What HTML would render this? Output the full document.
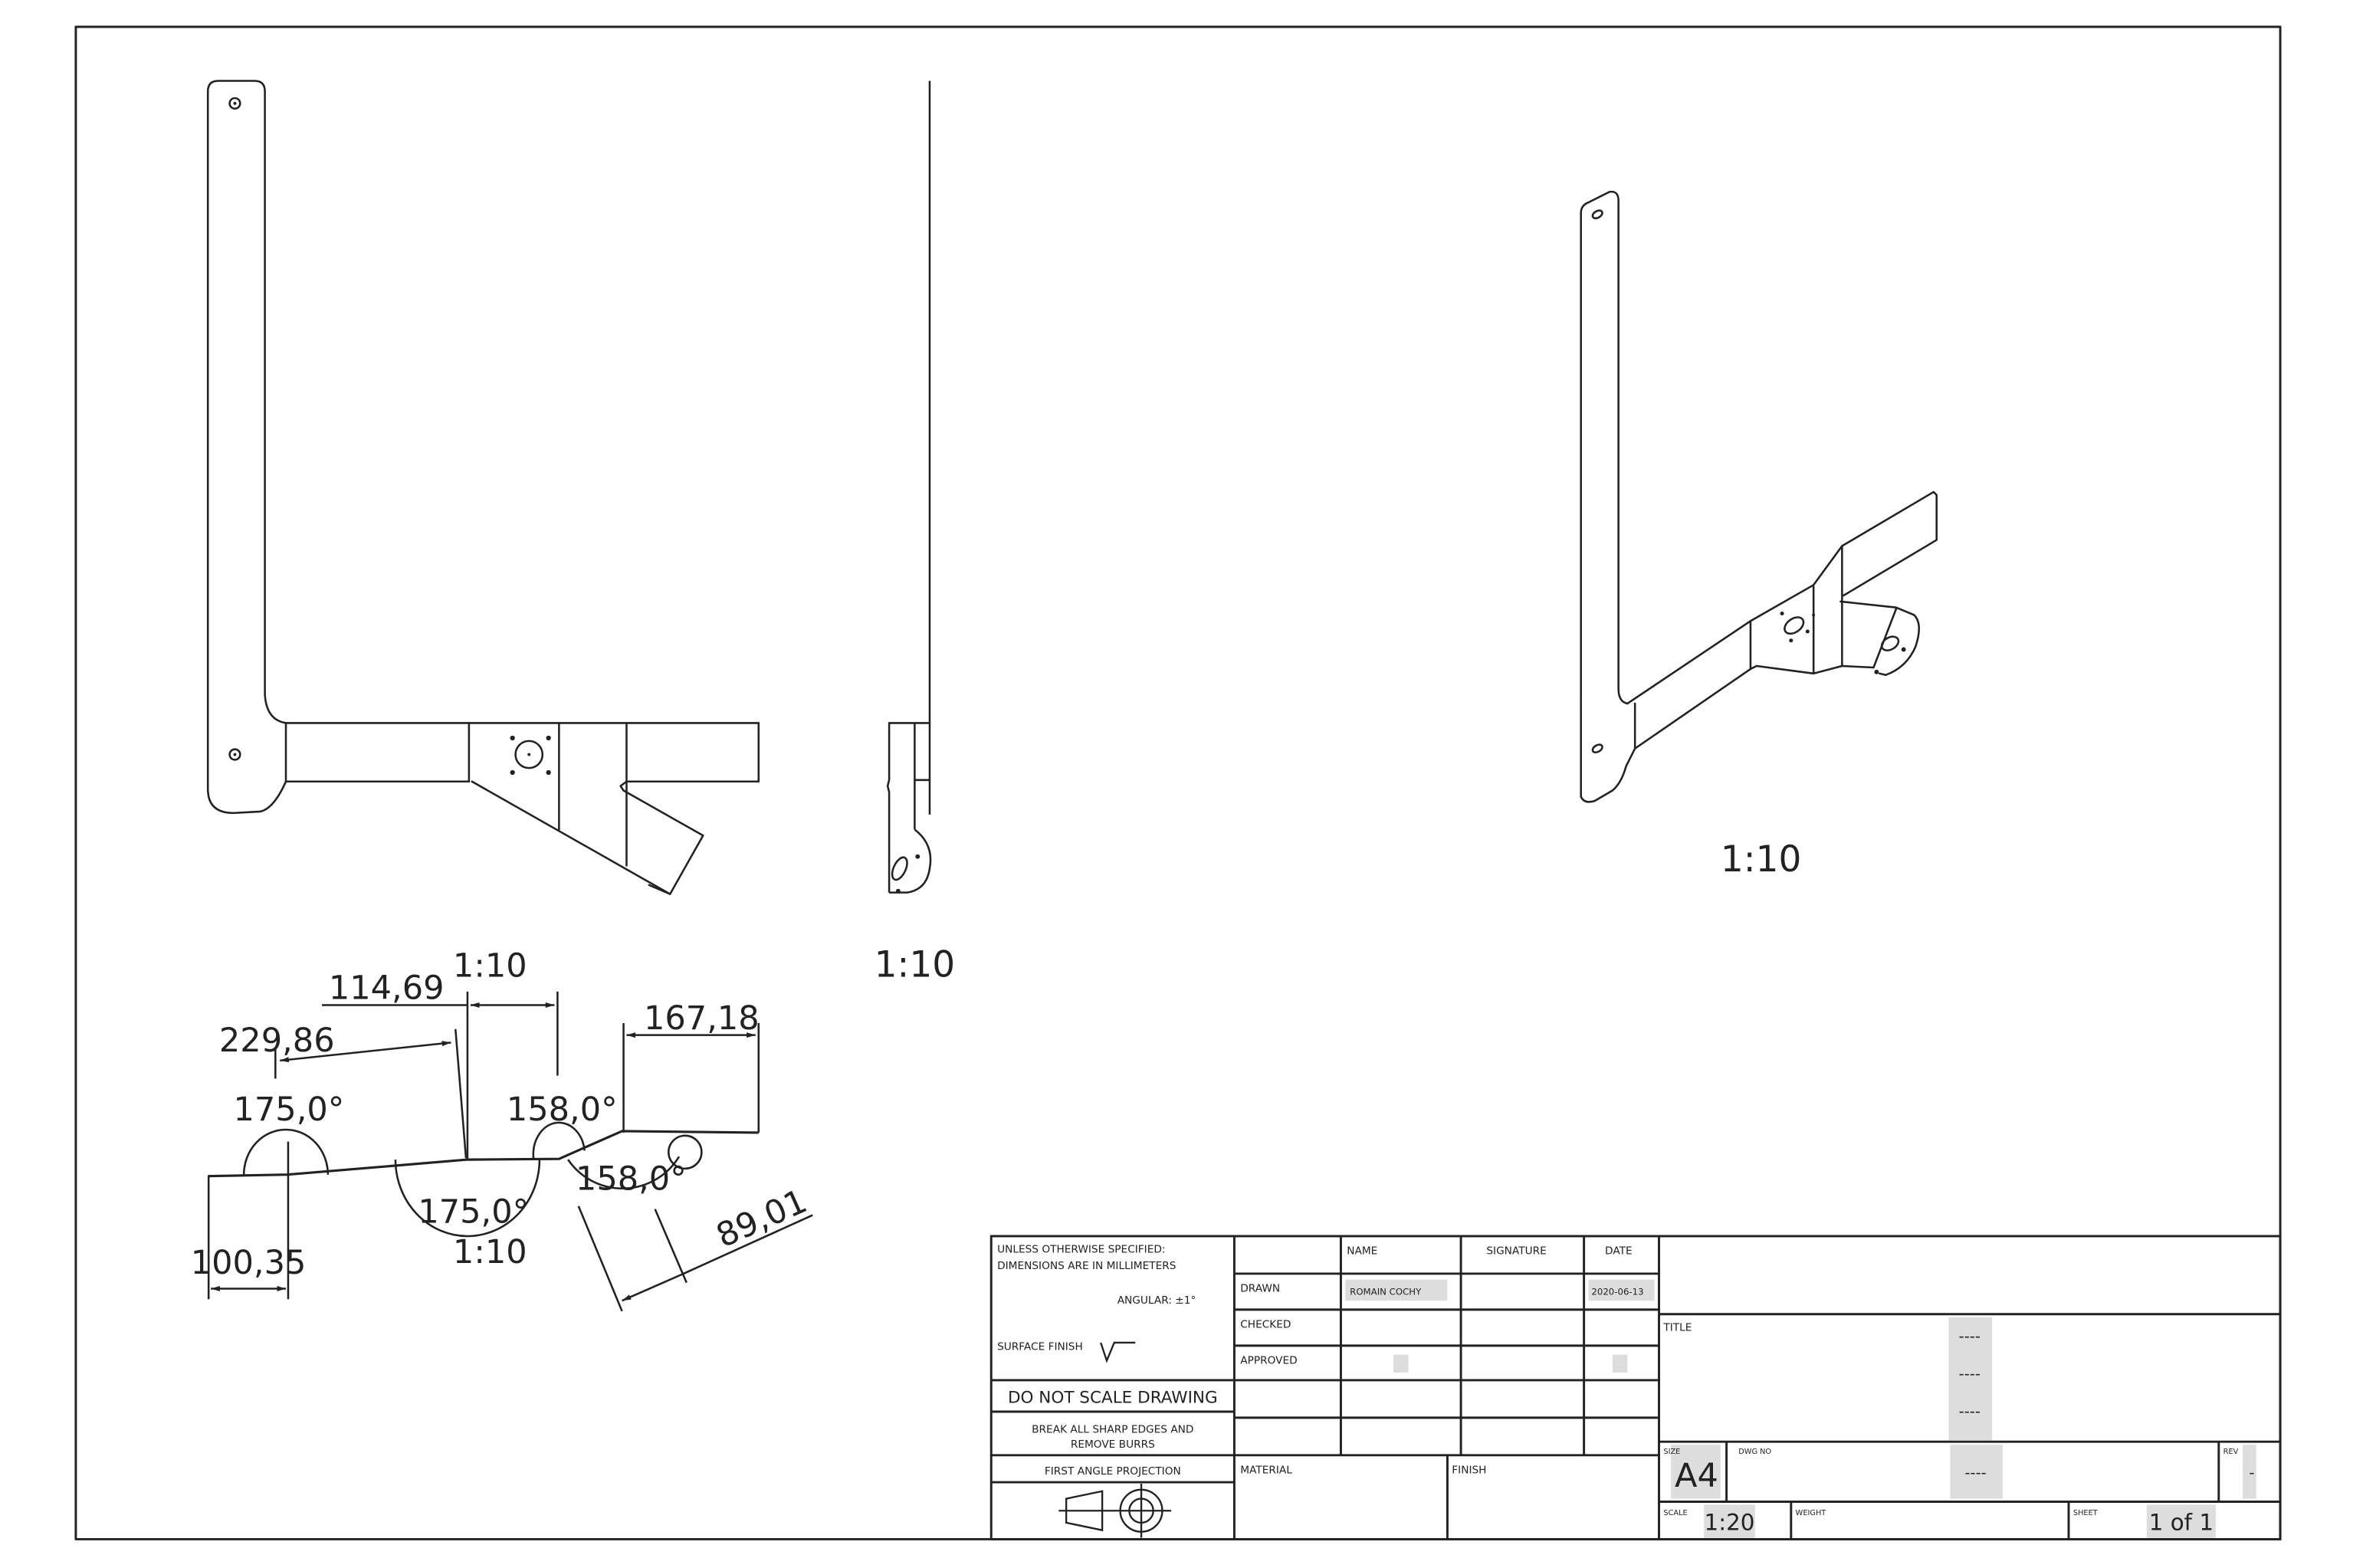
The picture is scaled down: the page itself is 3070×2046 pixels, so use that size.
<!DOCTYPE html>
<html><head><meta charset="utf-8"><style>
html,body{margin:0;padding:0;background:#fff;}
svg{display:block;}
text{font-family:"DejaVu Sans","Liberation Sans",sans-serif;fill:#222;}
</style></head><body>
<svg width="3070" height="2046" viewBox="0 0 1552 1034" preserveAspectRatio="none" xmlns="http://www.w3.org/2000/svg">
<defs>
<marker id="ar" viewBox="0 0 10 6" refX="10" refY="3" markerWidth="6" markerHeight="4" orient="auto-start-reverse" markerUnits="userSpaceOnUse"><path d="M0,0L10,3L0,6z" fill="#222"/></marker>
</defs>
<rect width="1552" height="1034" fill="#fff"/>
<g transform="translate(50,17.7) scale(0.9898,0.9894) translate(-50,-17)">
<g fill="none" stroke="#222" stroke-width="1.3" stroke-linejoin="round" stroke-linecap="round">
<rect x="50" y="17" width="1469" height="1008" stroke-width="1.5"/>

<!-- FRONT VIEW -->
<path d="M176,60 Q176,53 169,53 L145,53 Q138,53 138,60 L138,525 Q138,541 155,541 L173,540 Q182,538 190,520"/>
<path d="M176,60 L176,462 Q177,479 190,481"/>
<line x1="190" y1="481" x2="505" y2="481"/>
<line x1="190" y1="481" x2="190" y2="520"/>
<line x1="190" y1="520" x2="312" y2="520"/>
<line x1="417" y1="520" x2="505" y2="520"/>
<line x1="505" y1="481" x2="505" y2="520"/>
<line x1="312" y1="481" x2="312" y2="520"/>
<line x1="372" y1="481" x2="372" y2="552"/>
<line x1="417" y1="481" x2="417" y2="576"/>
<path d="M314,520 L446,595"/>
<path d="M417,520 L413,523 L415,526 L468,556 L446,595 L432,589"/>
<circle cx="352" cy="502" r="9"/>
<circle cx="156" cy="68" r="3.5"/>
<circle cx="156" cy="502" r="3.5"/>
</g>
<g fill="#222">
<circle cx="341" cy="491" r="1.6"/><circle cx="365" cy="491" r="1.6"/><circle cx="341" cy="514" r="1.6"/><circle cx="365" cy="514" r="1.6"/><circle cx="352" cy="502" r="1"/>
<circle cx="156" cy="68" r="1"/><circle cx="156" cy="502" r="1"/>
</g>

<!-- SIDE VIEW -->
<g fill="none" stroke="#222" stroke-width="1.3" stroke-linejoin="round">
<line x1="619" y1="53" x2="619" y2="542"/>
<path d="M619,481 L592,481 L592,519 L591,523 L592,527 L592,594"/>
<line x1="609" y1="481" x2="609" y2="552"/>
<line x1="609" y1="519" x2="619" y2="519"/>
<path d="M609,552 Q622,562 619,578 Q617,592 604,594 L592,594"/>
<ellipse cx="599" cy="578" rx="4" ry="8" transform="rotate(25 599 578)"/>
</g>
<g fill="#222"><circle cx="611" cy="570" r="1.5"/><circle cx="598" cy="593" r="1.5"/></g>
<text x="609" y="650" font-size="24" text-anchor="middle">1:10</text>

<!-- ISO VIEW -->
<g fill="none" stroke="#222" stroke-width="1.3" stroke-linejoin="round" stroke-linecap="round">
<path d="M1053,530 L1053,141 Q1053,136 1058,134 L1072,127 Q1078,126 1078,133 L1078,458 Q1078,467 1084,468"/>
<path d="M1053,530 Q1055,535 1062,533 L1074,526 Q1080,521 1083,510 L1089,498"/>
<path d="M1084,468 L1166,413 L1208,389 L1227,363 L1288,327 L1290,329 L1290,359 L1228,396"/>
<line x1="1227" y1="363" x2="1227" y2="443"/>
<line x1="1208" y1="390" x2="1208" y2="448"/>
<line x1="1166" y1="413" x2="1166" y2="445"/>
<line x1="1089" y1="468" x2="1089" y2="498"/>
<path d="M1089,498 L1166,445 L1170,443 L1208,448 L1227,443 L1248,444"/>
<path d="M1226,400 L1263,404 L1275,409 Q1281,415 1276,430 Q1270,444 1256,449 L1252,448"/>
<path d="M1248,444 L1263,405"/>
<ellipse cx="1259" cy="428" rx="6" ry="4" transform="rotate(-30 1259 428)"/>
<ellipse cx="1195" cy="416" rx="7" ry="4.5" transform="rotate(-35 1195 416)"/>
<ellipse cx="1064" cy="142" rx="3.5" ry="2.2" transform="rotate(-30 1064 142)"/>
<ellipse cx="1064" cy="498" rx="3.5" ry="2.2" transform="rotate(-30 1064 498)"/>
</g>
<g fill="#222"><circle cx="1187" cy="408" r="1.3"/><circle cx="1204" cy="420" r="1.3"/><circle cx="1193" cy="426" r="1.3"/><circle cx="1208" cy="409" r="1"/><circle cx="1268" cy="432" r="1.5"/><circle cx="1250" cy="447" r="1.5"/></g>
<text x="1173" y="580" font-size="24" text-anchor="middle">1:10</text>

<!-- DIMENSION VIEW -->
<g fill="none" stroke="#222" stroke-width="1.3">
<path d="M138,783 L191,782 L311,772 L372,771.5 L414,753 L505,754" stroke-width="1.6"/>
<line x1="138.5" y1="783" x2="138.5" y2="865"/>
<line x1="191.5" y1="760" x2="191.5" y2="865"/>
<line x1="140" y1="858" x2="190" y2="858" marker-start="url(#ar)" marker-end="url(#ar)"/>
<path d="M162,782 A28,30 0 0 1 218,782"/>
<path d="M263,772 A48,51 0 0 0 359,772"/>
<path d="M355,771 A17,21 0 0 1 389,766"/>
<path d="M378,772 A44,44 0 0 0 452,770"/>
<circle cx="456" cy="767" r="11"/>
<line x1="415" y1="681" x2="415" y2="754"/>
<line x1="505" y1="681" x2="505" y2="754"/>
<line x1="417" y1="689" x2="503" y2="689" marker-start="url(#ar)" marker-end="url(#ar)"/>
<line x1="311" y1="660" x2="311" y2="772"/>
<line x1="371" y1="660" x2="371" y2="716"/>
<line x1="214" y1="669" x2="311" y2="669"/>
<line x1="313" y1="669" x2="369" y2="669" marker-start="url(#ar)" marker-end="url(#ar)"/>
<line x1="183" y1="697" x2="183" y2="718"/>
<line x1="303" y1="685" x2="310" y2="771"/>
<line x1="186" y1="706" x2="300" y2="694" marker-start="url(#ar)" marker-end="url(#ar)"/>
<line x1="385" y1="803" x2="414" y2="873"/>
<line x1="436" y1="805" x2="457" y2="854"/>
<line x1="414" y1="866" x2="455" y2="848" marker-start="url(#ar)"/>
<line x1="455" y1="848" x2="541" y2="809"/>
</g>
<g font-size="22" text-anchor="middle">
<text x="165" y="848">100,35</text>
<text x="192" y="746">175,0°</text>
<text x="315" y="814">175,0°</text>
<text x="326" y="841">1:10</text>
<text x="374" y="746">158,0°</text>
<text x="420" y="792">158,0°</text>
<text x="467" y="685">167,18</text>
<text x="257" y="665">114,69</text>
<text x="326" y="650">1:10</text>
<text x="184" y="700">229,86</text>
<text x="510" y="818" transform="rotate(-24 510 818)">89,01</text>
</g>

<!-- TITLE BLOCK -->
<g fill="#ddd">
<rect x="896" y="852" width="68" height="14"/><rect x="1058" y="852" width="44" height="14"/>
<rect x="928" y="902" width="10" height="12"/><rect x="1074" y="902" width="10" height="12"/>
<rect x="1298" y="877" width="29" height="82"/>
<rect x="1113" y="962" width="33" height="36"/>
<rect x="1299" y="962" width="35" height="36"/>
<rect x="1494" y="962" width="9" height="36"/>
<rect x="1135" y="1002" width="34" height="22"/>
<rect x="1430" y="1002" width="46" height="22"/>
</g>
<g fill="none" stroke="#222" stroke-width="1.5">
<rect x="660" y="823" width="859" height="202"/>
<line x1="822" y1="823" x2="822" y2="1025"/>
<line x1="893" y1="823" x2="893" y2="969"/>
<line x1="973" y1="823" x2="973" y2="969"/>
<line x1="1055" y1="823" x2="1055" y2="969"/>
<line x1="1105" y1="823" x2="1105" y2="1025"/>
<line x1="964" y1="969" x2="964" y2="1025"/>
<line x1="822" y1="848" x2="1105" y2="848"/>
<line x1="822" y1="872" x2="1105" y2="872"/>
<line x1="822" y1="896" x2="1105" y2="896"/>
<line x1="822" y1="919" x2="1105" y2="919"/>
<line x1="822" y1="944" x2="1105" y2="944"/>
<line x1="660" y1="969" x2="1105" y2="969"/>
<line x1="660" y1="919" x2="822" y2="919"/>
<line x1="660" y1="940" x2="822" y2="940"/>
<line x1="660" y1="987" x2="822" y2="987"/>
<line x1="1105" y1="875" x2="1519" y2="875"/>
<line x1="1105" y1="960" x2="1519" y2="960"/>
<line x1="1105" y1="1000" x2="1519" y2="1000"/>
<line x1="1150" y1="960" x2="1150" y2="1000"/>
<line x1="1478" y1="960" x2="1478" y2="1000"/>
<line x1="1193" y1="1000" x2="1193" y2="1025"/>
<line x1="1378" y1="1000" x2="1378" y2="1025"/>
</g>
<g fill="none" stroke="#222" stroke-width="1.2">
<path d="M710,998 L734,993 L734,1019 L710,1014 Z"/>
<circle cx="760" cy="1006" r="14"/><circle cx="760" cy="1006" r="8"/>
<line x1="705" y1="1006" x2="780" y2="1006"/><line x1="760" y1="988" x2="760" y2="1024"/>
<path d="M733,894 L737,906 L742,894 L756,894"/>
</g>
<g font-size="7" fill="#333">
<text x="664" y="834">UNLESS OTHERWISE SPECIFIED:</text>
<text x="664" y="845">DIMENSIONS ARE IN MILLIMETERS</text>
<text x="744" y="868">ANGULAR: ±1°</text>
<text x="664" y="899">SURFACE FINISH</text>
<text x="826" y="860">DRAWN</text>
<text x="826" y="884">CHECKED</text>
<text x="826" y="908">APPROVED</text>
<text x="897" y="835">NAME</text>
<text x="990" y="835">SIGNATURE</text>
<text x="1069" y="835">DATE</text>
<text x="899" y="862" font-size="6">ROMAIN COCHY</text>
<text x="1060" y="862" font-size="6">2020-06-13</text>
<text x="826" y="981">MATERIAL</text>
<text x="967" y="981">FINISH</text>
<text x="1108" y="886">TITLE</text>
<text x="1108" y="968" font-size="5">SIZE</text>
<text x="1158" y="968" font-size="5">DWG NO</text>
<text x="1481" y="968" font-size="5">REV</text>
<text x="1108" y="1009" font-size="5">SCALE</text>
<text x="1196" y="1009" font-size="5">WEIGHT</text>
<text x="1381" y="1009" font-size="5">SHEET</text>
<text x="741" y="982" text-anchor="middle">FIRST ANGLE PROJECTION</text>
<text x="741" y="954" text-anchor="middle">BREAK ALL SHARP EDGES AND</text>
<text x="741" y="964" text-anchor="middle">REMOVE BURRS</text>
</g>
<text x="741" y="934" font-size="11" text-anchor="middle">DO NOT SCALE DRAWING</text>
<g font-size="10" text-anchor="middle"><text x="1312" y="893">----</text><text x="1312" y="918">----</text><text x="1312" y="943">----</text><text x="1316" y="984">----</text><text x="1500" y="984">-</text></g>
<text x="1130" y="990" font-size="22" text-anchor="middle">A4</text>
<text x="1152" y="1019" font-size="15" text-anchor="middle">1:20</text>
<text x="1453" y="1019" font-size="15" text-anchor="middle">1 of 1</text>
</g>
</svg>
</body></html>
